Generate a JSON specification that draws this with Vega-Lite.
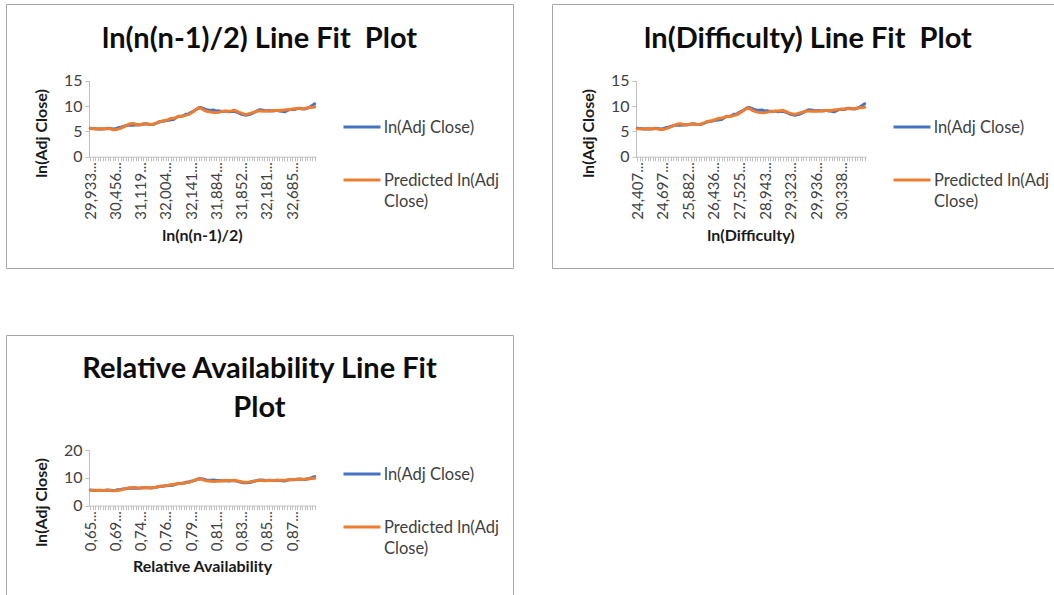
{
  "$schema": "https://vega.github.io/schema/vega-lite/v6.json",
  "background": "white",
  "padding": {"left": 5, "top": 3, "right": 0, "bottom": 0},
  "datasets": {
    "obs": [
      {"i": 1, "actual": 5.6, "pairs": 5.55, "difficulty": 5.5, "availability": 5.5},
      {"i": 2, "actual": 5.55, "pairs": 5.5, "difficulty": 5.5, "availability": 5.45},
      {"i": 3, "actual": 5.5, "pairs": 5.5, "difficulty": 5.45, "availability": 5.45},
      {"i": 4, "actual": 5.45, "pairs": 5.45, "difficulty": 5.45, "availability": 5.5},
      {"i": 5, "actual": 5.5, "pairs": 5.45, "difficulty": 5.5, "availability": 5.45},
      {"i": 6, "actual": 5.45, "pairs": 5.5, "difficulty": 5.5, "availability": 5.45},
      {"i": 7, "actual": 5.5, "pairs": 5.5, "difficulty": 5.45, "availability": 5.5},
      {"i": 8, "actual": 5.6, "pairs": 5.55, "difficulty": 5.55, "availability": 5.5},
      {"i": 9, "actual": 5.55, "pairs": 5.5, "difficulty": 5.5, "availability": 5.45},
      {"i": 10, "actual": 5.45, "pairs": 5.3, "difficulty": 5.35, "availability": 5.3},
      {"i": 11, "actual": 5.5, "pairs": 5.3, "difficulty": 5.35, "availability": 5.35},
      {"i": 12, "actual": 5.7, "pairs": 5.45, "difficulty": 5.5, "availability": 5.5},
      {"i": 13, "actual": 5.8, "pairs": 5.6, "difficulty": 5.65, "availability": 5.6},
      {"i": 14, "actual": 5.95, "pairs": 5.85, "difficulty": 5.9, "availability": 5.85},
      {"i": 15, "actual": 6.1, "pairs": 6.1, "difficulty": 6.1, "availability": 6.05},
      {"i": 16, "actual": 6.2, "pairs": 6.35, "difficulty": 6.3, "availability": 6.3},
      {"i": 17, "actual": 6.25, "pairs": 6.5, "difficulty": 6.45, "availability": 6.45},
      {"i": 18, "actual": 6.2, "pairs": 6.55, "difficulty": 6.5, "availability": 6.5},
      {"i": 19, "actual": 6.3, "pairs": 6.4, "difficulty": 6.35, "availability": 6.4},
      {"i": 20, "actual": 6.25, "pairs": 6.3, "difficulty": 6.3, "availability": 6.3},
      {"i": 21, "actual": 6.3, "pairs": 6.35, "difficulty": 6.35, "availability": 6.3},
      {"i": 22, "actual": 6.45, "pairs": 6.45, "difficulty": 6.4, "availability": 6.4},
      {"i": 23, "actual": 6.5, "pairs": 6.5, "difficulty": 6.45, "availability": 6.5},
      {"i": 24, "actual": 6.4, "pairs": 6.45, "difficulty": 6.4, "availability": 6.45},
      {"i": 25, "actual": 6.35, "pairs": 6.35, "difficulty": 6.35, "availability": 6.4},
      {"i": 26, "actual": 6.4, "pairs": 6.4, "difficulty": 6.45, "availability": 6.45},
      {"i": 27, "actual": 6.55, "pairs": 6.6, "difficulty": 6.65, "availability": 6.6},
      {"i": 28, "actual": 6.8, "pairs": 6.85, "difficulty": 6.9, "availability": 6.85},
      {"i": 29, "actual": 6.95, "pairs": 6.95, "difficulty": 7.0, "availability": 7.0},
      {"i": 30, "actual": 7.0, "pairs": 7.1, "difficulty": 7.1, "availability": 7.05},
      {"i": 31, "actual": 7.15, "pairs": 7.2, "difficulty": 7.25, "availability": 7.2},
      {"i": 32, "actual": 7.2, "pairs": 7.35, "difficulty": 7.4, "availability": 7.35},
      {"i": 33, "actual": 7.3, "pairs": 7.55, "difficulty": 7.6, "availability": 7.55},
      {"i": 34, "actual": 7.35, "pairs": 7.6, "difficulty": 7.65, "availability": 7.6},
      {"i": 35, "actual": 7.7, "pairs": 7.7, "difficulty": 7.75, "availability": 7.75},
      {"i": 36, "actual": 8.0, "pairs": 7.95, "difficulty": 7.95, "availability": 7.9},
      {"i": 37, "actual": 7.95, "pairs": 8.0, "difficulty": 7.95, "availability": 7.95},
      {"i": 38, "actual": 8.1, "pairs": 8.05, "difficulty": 8.0, "availability": 8.0},
      {"i": 39, "actual": 8.4, "pairs": 8.2, "difficulty": 8.15, "availability": 8.2},
      {"i": 40, "actual": 8.45, "pairs": 8.3, "difficulty": 8.3, "availability": 8.35},
      {"i": 41, "actual": 8.75, "pairs": 8.65, "difficulty": 8.6, "availability": 8.65},
      {"i": 42, "actual": 9.0, "pairs": 8.95, "difficulty": 8.9, "availability": 8.95},
      {"i": 43, "actual": 9.3, "pairs": 9.3, "difficulty": 9.25, "availability": 9.3},
      {"i": 44, "actual": 9.65, "pairs": 9.6, "difficulty": 9.55, "availability": 9.55},
      {"i": 45, "actual": 9.7, "pairs": 9.55, "difficulty": 9.5, "availability": 9.5},
      {"i": 46, "actual": 9.5, "pairs": 9.2, "difficulty": 9.15, "availability": 9.2},
      {"i": 47, "actual": 9.25, "pairs": 9.0, "difficulty": 8.95, "availability": 8.95},
      {"i": 48, "actual": 9.15, "pairs": 8.85, "difficulty": 8.8, "availability": 8.85},
      {"i": 49, "actual": 9.15, "pairs": 8.8, "difficulty": 8.7, "availability": 8.75},
      {"i": 50, "actual": 9.2, "pairs": 8.7, "difficulty": 8.65, "availability": 8.7},
      {"i": 51, "actual": 9.0, "pairs": 8.7, "difficulty": 8.7, "availability": 8.75},
      {"i": 52, "actual": 9.05, "pairs": 8.75, "difficulty": 8.8, "availability": 8.8},
      {"i": 53, "actual": 8.95, "pairs": 8.9, "difficulty": 8.9, "availability": 8.9},
      {"i": 54, "actual": 8.9, "pairs": 9.0, "difficulty": 8.95, "availability": 9.0},
      {"i": 55, "actual": 9.0, "pairs": 8.95, "difficulty": 8.95, "availability": 8.95},
      {"i": 56, "actual": 8.85, "pairs": 8.95, "difficulty": 9.0, "availability": 8.95},
      {"i": 57, "actual": 8.9, "pairs": 9.05, "difficulty": 9.05, "availability": 9.0},
      {"i": 58, "actual": 8.95, "pairs": 9.2, "difficulty": 9.15, "availability": 9.15},
      {"i": 59, "actual": 8.8, "pairs": 9.0, "difficulty": 8.95, "availability": 9.0},
      {"i": 60, "actual": 8.6, "pairs": 8.75, "difficulty": 8.7, "availability": 8.75},
      {"i": 61, "actual": 8.35, "pairs": 8.6, "difficulty": 8.55, "availability": 8.55},
      {"i": 62, "actual": 8.25, "pairs": 8.4, "difficulty": 8.4, "availability": 8.4},
      {"i": 63, "actual": 8.2, "pairs": 8.35, "difficulty": 8.4, "availability": 8.4},
      {"i": 64, "actual": 8.3, "pairs": 8.5, "difficulty": 8.55, "availability": 8.5},
      {"i": 65, "actual": 8.5, "pairs": 8.65, "difficulty": 8.7, "availability": 8.65},
      {"i": 66, "actual": 8.75, "pairs": 8.8, "difficulty": 8.85, "availability": 8.8},
      {"i": 67, "actual": 9.0, "pairs": 9.0, "difficulty": 9.0, "availability": 8.95},
      {"i": 68, "actual": 9.25, "pairs": 9.05, "difficulty": 9.0, "availability": 9.0},
      {"i": 69, "actual": 9.2, "pairs": 9.0, "difficulty": 8.95, "availability": 9.0},
      {"i": 70, "actual": 9.1, "pairs": 8.95, "difficulty": 8.95, "availability": 8.95},
      {"i": 71, "actual": 9.05, "pairs": 9.0, "difficulty": 8.95, "availability": 9.0},
      {"i": 72, "actual": 9.1, "pairs": 9.0, "difficulty": 9.0, "availability": 9.0},
      {"i": 73, "actual": 9.0, "pairs": 9.05, "difficulty": 9.05, "availability": 9.0},
      {"i": 74, "actual": 9.05, "pairs": 9.1, "difficulty": 9.05, "availability": 9.05},
      {"i": 75, "actual": 9.15, "pairs": 9.1, "difficulty": 9.1, "availability": 9.1},
      {"i": 76, "actual": 9.0, "pairs": 9.1, "difficulty": 9.1, "availability": 9.1},
      {"i": 77, "actual": 8.95, "pairs": 9.15, "difficulty": 9.1, "availability": 9.1},
      {"i": 78, "actual": 8.85, "pairs": 9.2, "difficulty": 9.2, "availability": 9.15},
      {"i": 79, "actual": 9.1, "pairs": 9.25, "difficulty": 9.25, "availability": 9.2},
      {"i": 80, "actual": 9.3, "pairs": 9.3, "difficulty": 9.3, "availability": 9.3},
      {"i": 81, "actual": 9.35, "pairs": 9.35, "difficulty": 9.35, "availability": 9.35},
      {"i": 82, "actual": 9.3, "pairs": 9.45, "difficulty": 9.4, "availability": 9.4},
      {"i": 83, "actual": 9.5, "pairs": 9.5, "difficulty": 9.45, "availability": 9.45},
      {"i": 84, "actual": 9.55, "pairs": 9.5, "difficulty": 9.45, "availability": 9.5},
      {"i": 85, "actual": 9.45, "pairs": 9.45, "difficulty": 9.45, "availability": 9.45},
      {"i": 86, "actual": 9.4, "pairs": 9.5, "difficulty": 9.5, "availability": 9.5},
      {"i": 87, "actual": 9.6, "pairs": 9.6, "difficulty": 9.55, "availability": 9.6},
      {"i": 88, "actual": 9.8, "pairs": 9.7, "difficulty": 9.65, "availability": 9.65},
      {"i": 89, "actual": 10.1, "pairs": 9.75, "difficulty": 9.7, "availability": 9.75},
      {"i": 90, "actual": 10.45, "pairs": 9.8, "difficulty": 9.75, "availability": 9.8}
    ]
  },
  "data": {"name": "obs"},
  "spacing": 65,
  "resolve": {"scale": {"x": "independent", "y": "independent", "color": "independent"}, "legend": {"color": "independent"}},
  "vconcat": [
    {
      "hconcat": [
        {
          "width": 507,
          "height": 264,
          "title": {"text": "ln(n(n-1)/2) Line Fit\u00a0 Plot", "offset": -50},
          "encoding": {
            "x": {
              "field": "i", "type": "ordinal",
              "scale": {"type": "point", "padding": 0.5, "range": [83, 310]},
              "axis": {
                "offset": -111.3,
                "title": "ln(n(n-1)/2)", "titleX": 196, "titleY": 79,
                "labelExpr": "datum.value % 10 == 1 ? ['29,933...','30,456...','31,119...','32,004...','32,141...','31,884...','31,852...','32,181...','32,685...'][floor(datum.value / 10)] : ''"
              }
            }
          },
          "layer": [
            {
              "mark": {"type": "line", "strokeWidth": 3, "strokeJoin": "round", "strokeCap": "round"},
              "encoding": {
                "y": {"field": "actual", "type": "quantitative",
                  "scale": {"domain": [0, 15], "range": [152.7, 76.7], "nice": false},
                  "axis": {"values": [0, 5, 10, 15], "offset": -83, "title": "ln(Adj Close)", "titleX": -48, "titleY": 129}},
                "color": {"datum": "ln(Adj Close)", "type": "nominal",
                  "scale": {"domain": ["ln(Adj Close)", "Predicted ln(Adj Close)"], "range": ["#4472C4", "#ED7D31"]},
                  "legend": {"orient": "none", "legendX": 336, "legendY": 103, "title": null,
                    "labelExpr": "datum.label == 'Predicted ln(Adj Close)' ? ['Predicted ln(Adj', 'Close)'] : datum.label",
                    "encode": {"labels": {"update": {"dy": {"value": 5.5}, "lineHeight": {"value": 21.5}}}}}}
              }
            },
            {
              "mark": {"type": "line", "strokeWidth": 3, "strokeJoin": "round", "strokeCap": "round"},
              "encoding": {
                "y": {"field": "pairs", "type": "quantitative",
                  "scale": {"domain": [0, 15], "range": [152.7, 76.7], "nice": false},
                  "axis": {"values": [0, 5, 10, 15], "offset": -83, "title": "ln(Adj Close)", "titleX": -48, "titleY": 129}},
                "color": {"datum": "Predicted ln(Adj Close)", "type": "nominal",
                  "scale": {"domain": ["ln(Adj Close)", "Predicted ln(Adj Close)"], "range": ["#4472C4", "#ED7D31"]},
                  "legend": {"orient": "none", "legendX": 336, "legendY": 103, "title": null,
                    "labelExpr": "datum.label == 'Predicted ln(Adj Close)' ? ['Predicted ln(Adj', 'Close)'] : datum.label",
                    "encode": {"labels": {"update": {"dy": {"value": 5.5}, "lineHeight": {"value": 21.5}}}}}}
              }
            }
          ]
        },
        {
          "width": 504,
          "height": 264,
          "title": {"text": "ln(Difficulty) Line Fit\u00a0 Plot", "offset": -50, "dx": 4},
          "encoding": {
            "x": {
              "field": "i", "type": "ordinal",
              "scale": {"type": "point", "padding": 0.5, "range": [84, 314]},
              "axis": {
                "offset": -111.3,
                "title": "ln(Difficulty)", "titleX": 198.5, "titleY": 79,
                "labelExpr": "datum.value % 10 == 1 ? ['24,407...','24,697...','25,882...','26,436...','27,525...','28,943...','29,323...','29,936...','30,338...'][floor(datum.value / 10)] : ''"
              }
            }
          },
          "layer": [
            {
              "mark": {"type": "line", "strokeWidth": 3, "strokeJoin": "round", "strokeCap": "round"},
              "encoding": {
                "y": {"field": "actual", "type": "quantitative",
                  "scale": {"domain": [0, 15], "range": [152.7, 76.7], "nice": false},
                  "axis": {"values": [0, 5, 10, 15], "offset": -84, "title": "ln(Adj Close)", "titleX": -48, "titleY": 129}},
                "color": {"datum": "ln(Adj Close)", "type": "nominal",
                  "scale": {"domain": ["ln(Adj Close)", "Predicted ln(Adj Close)"], "range": ["#4472C4", "#ED7D31"]},
                  "legend": {"orient": "none", "legendX": 340, "legendY": 103, "title": null,
                    "labelExpr": "datum.label == 'Predicted ln(Adj Close)' ? ['Predicted ln(Adj', 'Close)'] : datum.label",
                    "encode": {"labels": {"update": {"dy": {"value": 5.5}, "lineHeight": {"value": 21.5}}}}}}
              }
            },
            {
              "mark": {"type": "line", "strokeWidth": 3, "strokeJoin": "round", "strokeCap": "round"},
              "encoding": {
                "y": {"field": "difficulty", "type": "quantitative",
                  "scale": {"domain": [0, 15], "range": [152.7, 76.7], "nice": false},
                  "axis": {"values": [0, 5, 10, 15], "offset": -84, "title": "ln(Adj Close)", "titleX": -48, "titleY": 129}},
                "color": {"datum": "Predicted ln(Adj Close)", "type": "nominal",
                  "scale": {"domain": ["ln(Adj Close)", "Predicted ln(Adj Close)"], "range": ["#4472C4", "#ED7D31"]},
                  "legend": {"orient": "none", "legendX": 340, "legendY": 103, "title": null,
                    "labelExpr": "datum.label == 'Predicted ln(Adj Close)' ? ['Predicted ln(Adj', 'Close)'] : datum.label",
                    "encode": {"labels": {"update": {"dy": {"value": 5.5}, "lineHeight": {"value": 21.5}}}}}}
              }
            }
          ]
        }
      ],
      "spacing": 37,
      "resolve": {"scale": {"x": "independent", "y": "independent", "color": "independent"}, "legend": {"color": "independent"}}
    },
    {
      "width": 507,
      "height": 264,
      "title": {"text": ["Relative Availability Line Fit", "Plot"], "offset": -88, "lineHeight": 39},
      "encoding": {
        "x": {
          "field": "i", "type": "ordinal",
          "scale": {"type": "point", "padding": 0.5, "range": [83, 310]},
          "axis": {
            "offset": -93.4,
            "title": "Relative Availability", "titleX": 196, "titleY": 61,
            "labelExpr": "datum.value % 10 == 1 ? ['0,65...','0,69...','0,74...','0,76...','0,79...','0,81...','0,83...','0,85...','0,87...'][floor(datum.value / 10)] : ''"
          }
        }
      },
      "layer": [
        {
          "mark": {"type": "line", "strokeWidth": 3, "strokeJoin": "round", "strokeCap": "round"},
          "encoding": {
            "y": {"field": "actual", "type": "quantitative",
              "scale": {"domain": [0, 20], "range": [170.6, 115], "nice": false},
              "axis": {"values": [0, 10, 20], "offset": -83, "title": "ln(Adj Close)", "titleX": -48, "titleY": 167}},
            "color": {"datum": "ln(Adj Close)", "type": "nominal",
              "scale": {"domain": ["ln(Adj Close)", "Predicted ln(Adj Close)"], "range": ["#4472C4", "#ED7D31"]},
              "legend": {"orient": "none", "legendX": 336, "legendY": 119, "title": null,
                "labelExpr": "datum.label == 'Predicted ln(Adj Close)' ? ['Predicted ln(Adj', 'Close)'] : datum.label",
                "encode": {"labels": {"update": {"dy": {"value": 5.5}, "lineHeight": {"value": 21.5}}}}}}
          }
        },
        {
          "mark": {"type": "line", "strokeWidth": 3, "strokeJoin": "round", "strokeCap": "round"},
          "encoding": {
            "y": {"field": "availability", "type": "quantitative",
              "scale": {"domain": [0, 20], "range": [170.6, 115], "nice": false},
              "axis": {"values": [0, 10, 20], "offset": -83, "title": "ln(Adj Close)", "titleX": -48, "titleY": 167}},
            "color": {"datum": "Predicted ln(Adj Close)", "type": "nominal",
              "scale": {"domain": ["ln(Adj Close)", "Predicted ln(Adj Close)"], "range": ["#4472C4", "#ED7D31"]},
              "legend": {"orient": "none", "legendX": 336, "legendY": 119, "title": null,
                "labelExpr": "datum.label == 'Predicted ln(Adj Close)' ? ['Predicted ln(Adj', 'Close)'] : datum.label",
                "encode": {"labels": {"update": {"dy": {"value": 5.5}, "lineHeight": {"value": 21.5}}}}}}
          }
        }
      ]
    }
  ],
  "config": {
    "font": "Lato",
    "view": {"stroke": "#a6a6a6", "strokeWidth": 1},
    "title": {"font": "Lato", "fontSize": 29, "fontWeight": "bold", "color": "#0d0d0d", "anchor": "middle", "frame": "group"},
    "axis": {
      "grid": false,
      "domainColor": "#bfbfbf", "tickColor": "#bfbfbf",
      "labelColor": "#404040", "labelFont": "Lato",
      "titleFont": "Lato", "titleFontSize": 16, "titleFontWeight": "bold", "titleColor": "#1a1a1a",
      "titleAlign": "center", "titleBaseline": "middle"
    },
    "axisX": {
      "labelAngle": -90, "labelAlign": "right", "labelBaseline": "middle",
      "labelFontSize": 15, "labelOverlap": false, "labelBound": false, "labelFlush": false,
      "tickSize": 4, "labelPadding": 1, "titleAngle": 0
    },
    "axisY": {
      "labelFontSize": 16, "tickSize": 4, "labelPadding": 3, "titleAngle": -90
    },
    "legend": {
      "symbolType": "stroke", "symbolStrokeWidth": 3, "symbolSize": 1369,
      "labelFont": "Lato", "labelFontSize": 16.5, "labelColor": "#404040",
      "labelOffset": 2, "labelBaseline": "alphabetic", "labelLimit": 200,
      "rowPadding": 24, "padding": 0
    }
  }
}
